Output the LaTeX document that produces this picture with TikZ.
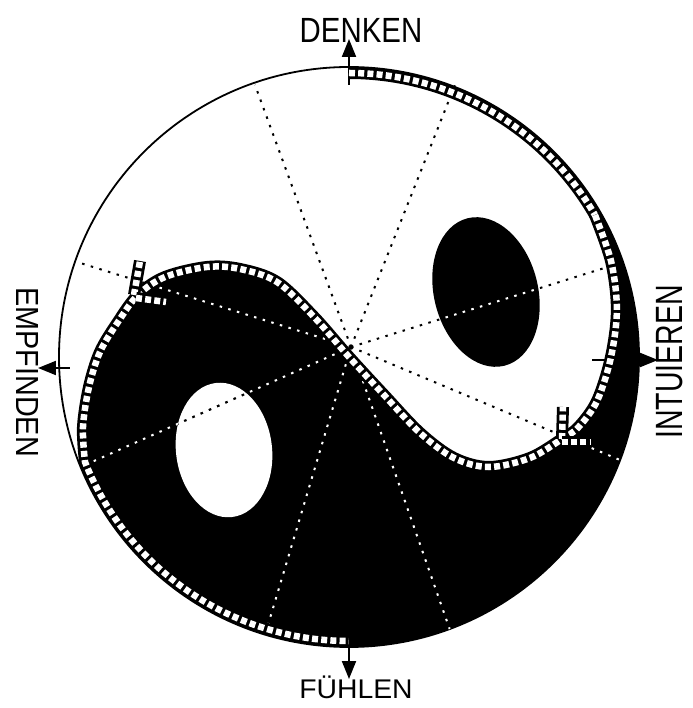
\documentclass[tikz,border=0pt]{standalone}
\usepackage{fontspec}
\setmainfont{Liberation Sans}
\usetikzlibrary{arrows.meta}

\newcommand{\sline}{plot[smooth,tension=0.55] coordinates {(30:284) (20:279) (10:272) (0:262) (-10:252) (-17:240) (213,-82) (181,-101) (140,-110) (105,-101) (71,-76) (35,-38) (0,0) (-35,40) (-72,75) (-109,88) (-142,90) (-184,80) (-211,62) (-231,35) (-249,5) (-260,-30) (-266,-70) (-264,-105)} arc[start angle=201.7,end angle=270,radius=284]}
\newcommand{\bodypath}{\sline -- (270:290) arc[start angle=270,end angle=390,radius=290] -- cycle}
\newcommand{\spokes}[1]{\foreach \ex/\ey in {-94/272,106/272,265/92,271/-103,-272/95,-264/-108,-84/-278,101/-273} \draw[spoke,#1] (mid) -- (\ex,\ey);}
\newcommand{\handtext}[3]{\scalebox{#2}[1]{\fontsize{#1}{#1}\selectfont #3}}

\begin{document}
\begin{tikzpicture}[x=1pt,y=1pt,
  spoke/.style={line width=2pt,dash pattern=on 2.5pt off 6.5pt},
  track/.style={preaction={draw=black,solid,line width=12pt},draw=white,line width=6.5pt,dash pattern=on 6pt off 3.2pt},
  pointer/.style={line width=2pt,-{Triangle[length=18pt,width=14pt]}},
  signword/.style={inner sep=0pt}]
\useasboundingbox (-349,-351) rectangle (343,357);
\coordinate (mid) at (2,10);

\fill \bodypath;
\fill[white] (-125,-93) circle[x radius=48,y radius=67.5,rotate=7];
\fill (137,65) circle[x radius=52,y radius=76,rotate=14];
\draw[line width=1.8pt] (0,0) circle[radius=290];

\spokes{black}
\begin{scope}
  \clip \bodypath;
  \spokes{white}
\end{scope}
\begin{scope}
  \clip (-125,-93) circle[x radius=48,y radius=67.5,rotate=7];
  \spokes{black}
\end{scope}
\begin{scope}
  \clip (137,65) circle[x radius=52,y radius=76,rotate=14];
  \spokes{white}
\end{scope}

\node[signword,anchor=base] (denken) at (12,314) {\handtext{35}{0.84}{DENKEN}};
\node[signword,anchor=base] (fuehlen) at (7,-341) {\handtext{27}{1.05}{FÜHLEN}};
\node[signword,rotate=-90] (empfinden) at (-321,-15) {\handtext{32}{0.9}{EMPFINDEN}};
\node[signword,rotate=90] (intuieren) at (321,-5) {\handtext{38}{0.75}{INTUIEREN}};

\coordinate (ntail) at (0,272);
\coordinate (ntip) at (0,318);
\coordinate (etail) at (243,-3);
\coordinate (etip) at (309,-3);
\coordinate (wtail) at (-279,-11);
\coordinate (wtip) at (-311,-11);
\coordinate (stail) at (0,-284);
\coordinate (stip) at (0,-322);
\draw[pointer] (ntail) -- (ntip);
\draw[pointer] (etail) -- (etip);
\draw[pointer] (wtail) -- (wtip);
\draw[pointer] (stail) -- (stip);

\draw[track] (90:284) arc[start angle=90,end angle=30,radius=284];
\draw[track] \sline;
\draw[track] (213,-82) -- (214,-50);
\draw[track] (213,-85) -- (241,-85);
\draw[track] (-215,62) -- (-209,96);
\draw[track] (-213,59) -- (-183,55);
\end{tikzpicture}
\end{document}
